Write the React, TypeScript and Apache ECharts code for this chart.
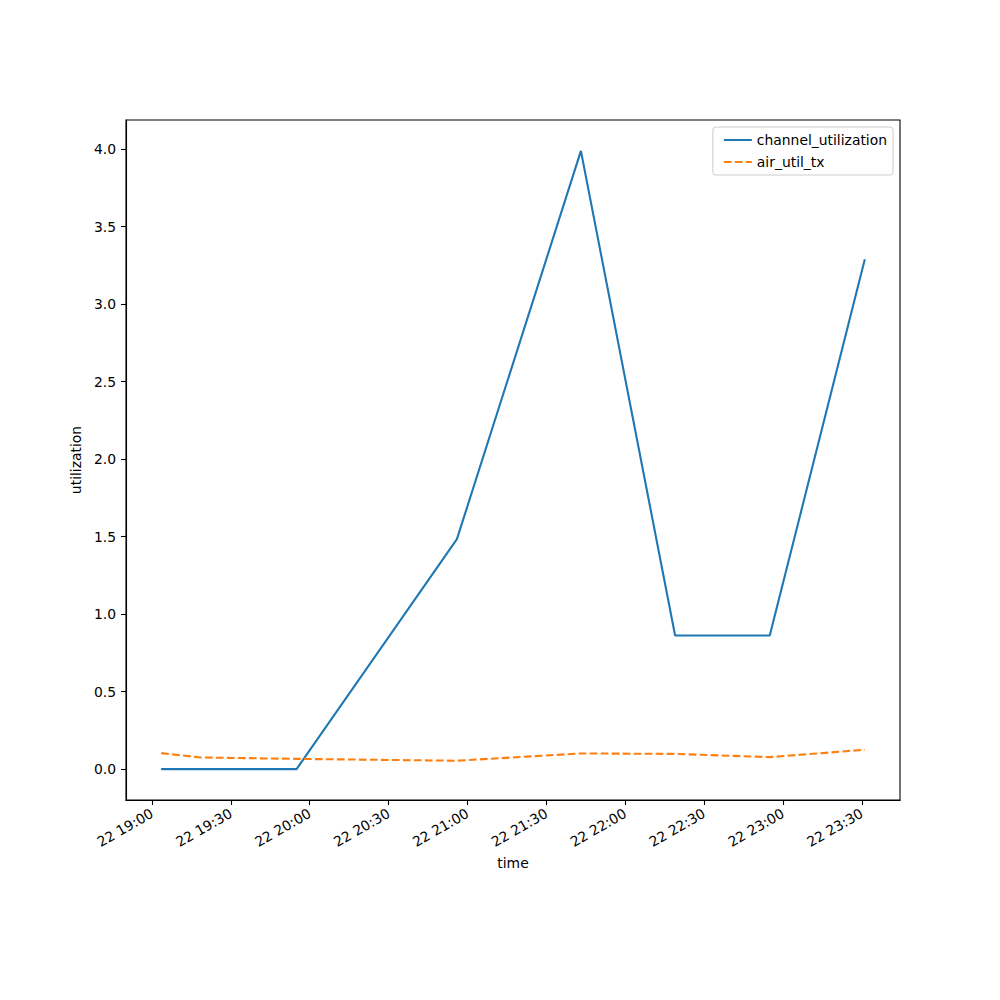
import React, { useEffect, useRef } from "react";
import * as echarts from "echarts";

// timestamps on day 22, expressed as "HH:MM:SS"
const times = ["19:03:30", "19:18:30", "19:55:00", "20:56:00", "21:43:10", "22:19:00", "22:55:00", "23:31:10"];
const channelUtilization = [0.0, 0.0, 0.0, 1.484, 3.989, 0.862, 0.862, 3.29];
const airUtilTx = [0.103, 0.075, 0.066, 0.054, 0.101, 0.098, 0.077, 0.125];
const tickLabels = ["19:00", "19:30", "20:00", "20:30", "21:00", "21:30", "22:00", "22:30", "23:00", "23:30"];
const yTicks = [0, 0.5, 1.0, 1.5, 2.0, 2.5, 3.0, 3.5, 4.0];
const dayLabel = "22";

const BASE = 19 * 60; // minutes
const toMin = (t: string) => {
  const [h, m, s] = t.split(":").map(Number);
  return h * 60 + m + (s || 0) / 60 - BASE;
};
const fmt = (v: number) => {
  const tot = Math.round(v + BASE);
  const h = Math.floor(tot / 60);
  const m = tot % 60;
  return `${dayLabel} ${String(h).padStart(2, "0")}:${String(m).padStart(2, "0")}`;
};

export default function App() {
  const ref = useRef<HTMLDivElement>(null);
  useEffect(() => {
    if (!ref.current) return;
    const chart = echarts.init(ref.current, undefined, { renderer: "svg" });
    const xs = times.map(toMin);
    const d0 = Math.min(...xs);
    const d1 = Math.max(...xs);
    const xpad = (d1 - d0) * 0.05;
    const yMinD = Math.min(...channelUtilization, ...airUtilTx);
    const yMaxD = Math.max(...channelUtilization, ...airUtilTx);
    const ypad = (yMaxD - yMinD) * 0.05;
    const xTickVals = tickLabels.map((t) => toMin(t + ":00"));
    const font = "DejaVu Sans";
    chart.setOption({
      animation: false,
      backgroundColor: "#fff",
      textStyle: { fontFamily: font },
      grid: {
        left: 126,
        top: 120,
        width: 774,
        height: 680,
        show: true,
        borderColor: "#000",
        borderWidth: 1.1,
        backgroundColor: "transparent",
      },
      legend: {
        orient: "vertical",
        right: 107,
        top: 127,
        itemWidth: 28,
        itemHeight: 10,
        itemGap: 8,
        padding: [6, 6, 6, 10],
        borderColor: "#cccccc",
        borderWidth: 1,
        borderRadius: 3,
        itemStyle: { opacity: 0 },
        textStyle: { fontFamily: font, fontSize: 13.9, color: "#000" },
        data: ["channel_utilization", "air_util_tx"],
      },
      xAxis: {
        type: "value",
        min: d0 - xpad,
        max: d1 + xpad,
        name: "time",
        nameLocation: "middle",
        nameGap: 56,
        nameTextStyle: { fontFamily: font, fontSize: 13.9, color: "#000" },
        splitLine: { show: false },
        axisLine: { onZero: false, lineStyle: { color: "#000", width: 1.1 } },
        axisTick: { show: true, length: 5, lineStyle: { color: "#000", width: 1.1 }, customValues: xTickVals },
        axisLabel: {
          customValues: xTickVals,
          rotate: 30,
          margin: 12,
          fontFamily: font,
          fontSize: 13.9,
          color: "#000",
          formatter: (v: number) => fmt(v),
        },
      },
      yAxis: {
        type: "value",
        min: yMinD - ypad,
        max: yMaxD + ypad,
        name: "utilization",
        nameLocation: "middle",
        nameGap: 40,
        nameTextStyle: { fontFamily: font, fontSize: 13.9, color: "#000" },
        splitLine: { show: false },
        axisLine: { show: true, onZero: false, lineStyle: { color: "#000", width: 1.1 } },
        axisTick: { show: true, length: 5, lineStyle: { color: "#000", width: 1.1 }, customValues: yTicks },
        axisLabel: {
          customValues: yTicks,
          margin: 10,
          fontFamily: font,
          fontSize: 13.9,
          color: "#000",
          formatter: (v: number) => v.toFixed(1),
        },
      },
      series: [
        {
          name: "channel_utilization",
          type: "line",
          data: xs.map((x, i) => [x, channelUtilization[i]]),
          symbol: "none",
          lineStyle: { color: "#1f77b4", width: 2.1 },
          itemStyle: { color: "#1f77b4" },
        },
        {
          name: "air_util_tx",
          type: "line",
          data: xs.map((x, i) => [x, airUtilTx[i]]),
          symbol: "none",
          lineStyle: { color: "#ff7f0e", width: 2.1, type: [7.7, 3.3] },
          itemStyle: { color: "#ff7f0e" },
        },
      ],
    });
    return () => chart.dispose();
  }, []);
  return (
    <div
      ref={ref}
      style={{ position: "absolute", left: 0, top: 0, width: 1000, height: 1000 }}
    />
  );
}
